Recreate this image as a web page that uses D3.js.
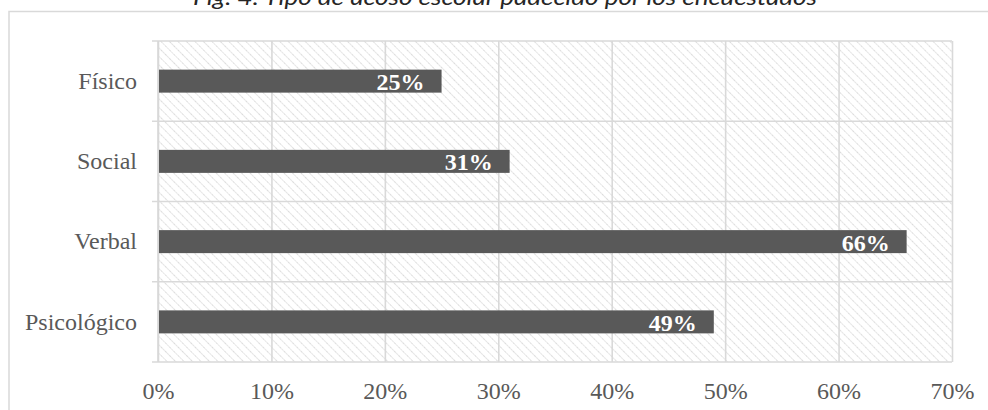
<!DOCTYPE html>
<html>
<head>
<meta charset="utf-8">
<script src="https://cdn.jsdelivr.net/npm/d3@7"></script>
<style>
  html, body { margin: 0; padding: 0; background: #fff; }
  svg { display: block; }
</style>
</head>
<body>
<svg id="chart" width="988" height="410"></svg>
<script>
const title = "Fig. 4: Tipo de acoso escolar padecido por los encuestados";
const categories = ["Físico", "Social", "Verbal", "Psicológico"];
const values = [0.25, 0.31, 0.66, 0.49];
const valueLabels = ["25%", "31%", "66%", "49%"];
const tickValues = [0, 0.1, 0.2, 0.3, 0.4, 0.5, 0.6, 0.7];
const tickLabels = ["0%", "10%", "20%", "30%", "40%", "50%", "60%", "70%"];

const svg = d3.select("#chart");
const plot = { left: 158, right: 952, top: 41, bottom: 362 };
const serif = "'Liberation Serif', 'Times New Roman', serif";
const grid = "#d9d9d9";
const textGray = "#595959";

// hatch pattern
const defs = svg.append("defs");
const pat = defs.append("pattern")
  .attr("id", "hatch")
  .attr("patternUnits", "userSpaceOnUse")
  .attr("width", 6).attr("height", 6)
  .attr("patternTransform", "rotate(-45)");
pat.append("line")
  .attr("x1", 0).attr("y1", 0).attr("x2", 0).attr("y2", 6)
  .attr("stroke", "#d4d4d4").attr("stroke-width", 1.6)
  .attr("stroke-dasharray", "1.4,0.9");

// outer frame
svg.append("rect")
  .attr("x", 9).attr("y", 11.5)
  .attr("width", 1000).attr("height", 420)
  .attr("fill", "none").attr("stroke", grid).attr("stroke-width", 1.5);

// title
svg.append("text")
  .attr("x", 505).attr("y", 5)
  .attr("text-anchor", "middle")
  .attr("font-family", "Lato, 'Open Sans', sans-serif")
  .attr("font-style", "italic")
  .attr("font-size", 22)
  .attr("fill", "#262626")
  .attr("textLength", 624)
  .attr("lengthAdjust", "spacingAndGlyphs")
  .text(title);

const x = d3.scaleLinear().domain([0, 0.7]).range([plot.left, plot.right]);
const y = d3.scaleBand().domain(categories).range([plot.top, plot.bottom]).padding(0);
const barH = 23;

// plot background hatch
svg.append("rect")
  .attr("x", plot.left).attr("y", plot.top)
  .attr("width", plot.right - plot.left).attr("height", plot.bottom - plot.top)
  .attr("fill", "url(#hatch)");

// vertical gridlines
const gx = svg.append("g")
  .attr("transform", `translate(0,${plot.bottom})`)
  .call(d3.axisBottom(x).tickValues(tickValues).tickSize(-(plot.bottom - plot.top)).tickFormat(""));
gx.select(".domain").remove();
gx.selectAll("line").attr("stroke", grid).attr("stroke-width", 1.6);

// horizontal category boundary lines
const bounds = categories.map(c => y(c)).concat([plot.bottom]);
svg.append("g").selectAll("line").data(bounds).join("line")
  .attr("x1", plot.left - 6).attr("x2", plot.right)
  .attr("y1", d => d).attr("y2", d => d)
  .attr("stroke", grid).attr("stroke-width", 1.6);

// left axis line
svg.append("line")
  .attr("x1", plot.left).attr("x2", plot.left)
  .attr("y1", plot.top).attr("y2", plot.bottom)
  .attr("stroke", grid).attr("stroke-width", 1.6);

// bars
svg.append("g").selectAll("rect").data(categories).join("rect")
  .attr("x", x(0) + 1)
  .attr("y", c => y(c) + (y.bandwidth() - barH) / 2)
  .attr("width", (c, i) => x(values[i]) - x(0) - 1)
  .attr("height", barH)
  .attr("fill", "#595959");

// bar labels
svg.append("g").selectAll("text").data(categories).join("text")
  .attr("x", (c, i) => x(values[i]) - 17)
  .attr("y", c => y(c) + y.bandwidth() / 2 + 9)
  .attr("text-anchor", "end")
  .attr("font-family", serif)
  .attr("font-weight", "bold")
  .attr("font-size", 24)
  .attr("fill", "#ffffff")
  .text((c, i) => valueLabels[i]);

// category axis labels
const gy = svg.append("g")
  .attr("transform", `translate(${plot.left},0)`)
  .call(d3.axisLeft(y).tickSize(0).tickPadding(21));
gy.select(".domain").remove();
gy.selectAll("text")
  .attr("font-family", serif).attr("font-size", 24)
  .attr("fill", textGray).attr("dy", "0.32em");

// value axis labels
const gb = svg.append("g")
  .attr("transform", `translate(0,${plot.bottom})`)
  .call(d3.axisBottom(x).tickValues(tickValues).tickSize(0).tickPadding(20)
    .tickFormat((d, i) => tickLabels[i]));
gb.select(".domain").remove();
gb.selectAll("text")
  .attr("font-family", serif).attr("font-size", 24)
  .attr("fill", textGray);
</script>
</body>
</html>
